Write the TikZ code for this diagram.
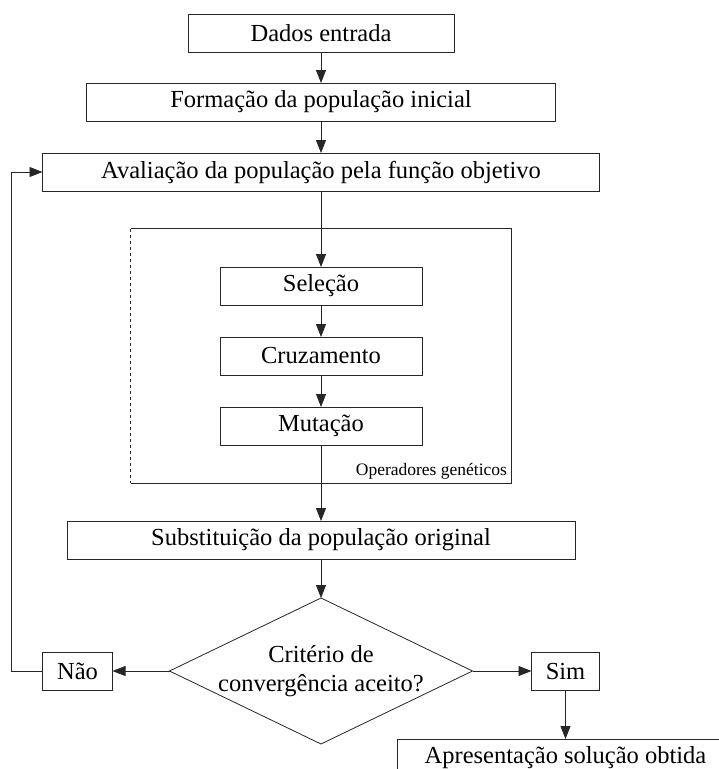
\documentclass[tikz,border=0pt]{standalone}
\usepackage{fontspec}
\setmainfont{Liberation Serif}
\usetikzlibrary{positioning,arrows.meta,fit,shapes.geometric}

\begin{document}
\begin{tikzpicture}[
  x=1pt, y=1pt,
  >={Triangle[length=13pt,width=10pt]},
  node distance=32pt,
  box/.style={
    draw=black!85,
    line width=0.8pt,
    minimum height=38pt,
    inner sep=0pt,
    outer sep=0pt,
    font=\fontsize{24.5}{29}\selectfont
  },
  decision/.style={
    draw=black!85,
    line width=0.8pt,
    diamond,
    aspect=2,
    inner xsep=-2pt,
    inner ysep=-4pt,
    outer sep=0pt,
    minimum width=303pt,
    minimum height=146pt,
    align=center,
    font=\fontsize{24.5}{29}\selectfont
  },
  edge/.style={->, line width=0.8pt, draw=black!85}
]
\useasboundingbox (0,0) rectangle (719,-769);
\clip (0,0) rectangle (719,-769);

\node[box, minimum width=266pt] (dados) at (321,-33) {Dados entrada};
\node[box, minimum width=469pt, below=31pt of dados] (form) {Formação da população inicial};
\node[box, minimum width=557pt, below=of form] (aval) {Avaliação da população pela função objetivo};
\node[box, minimum width=202pt, below=76pt of aval] (sel) {Seleção};
\node[box, minimum width=202pt, below=of sel] (cruz) {Cruzamento};
\node[box, minimum width=202pt, below=of cruz] (mut) {Mutação};
\node[box, minimum width=508pt, below=76pt of mut] (subst) {Substituição da população original};
\node[decision, below=39pt of subst] (crit) {Critério de\\convergência aceito?};
\node[box, minimum width=70pt, left=57pt of crit] (nao) {Não};
\node[box, minimum width=68pt, right=59pt of crit] (sim) {Sim};
\node[box, minimum width=336pt, below=49pt of sim] (apres) {Apresentação solução obtida};

% operadores geneticos
\node[fit=(sel)(mut), inner xsep=89pt, inner ysep=38pt] (ops) {};
\draw[line width=0.8pt, black!85] (ops.north west) -- (ops.north east) -- (ops.south east) -- (ops.south west);
\draw[line width=0.8pt, black!85, dashed] (ops.north west) -- (ops.south west);
\node[anchor=south east, inner sep=4pt, font=\fontsize{17.5}{20}\selectfont] (opslabel) at (ops.south east) {Operadores genéticos};

\draw[edge] (dados) -- (form);
\draw[edge] (form) -- (aval);
\draw[edge] (aval) -- (sel);
\draw[edge] (sel) -- (cruz);
\draw[edge] (cruz) -- (mut);
\draw[edge] (mut) -- (subst);
\draw[edge] (subst) -- (crit);
\draw[edge] (crit) -- (nao);
\draw[edge] (crit) -- (sim);
\draw[edge] (sim) -- (apres);
\draw[edge] (nao.west) -- ++(-31,0) |- (aval.west);
\end{tikzpicture}
\end{document}
